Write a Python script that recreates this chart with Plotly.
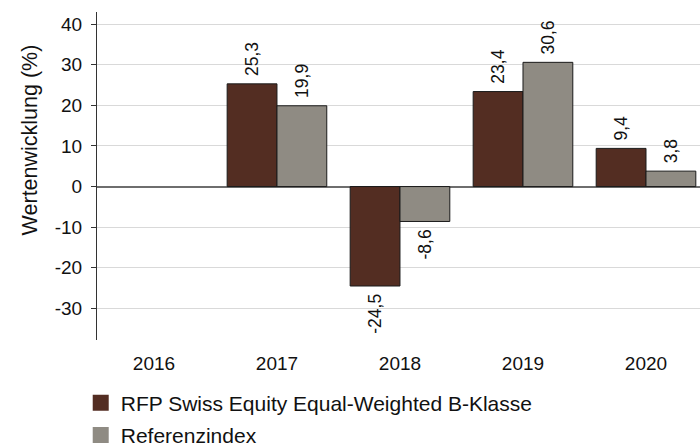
import plotly.graph_objects as go

years = ["2016", "2017", "2018", "2019", "2020"]
fund_name = "RFP Swiss Equity Equal-Weighted B-Klasse"
index_name = "Referenzindex"
fund_values = [None, 25.3, -24.5, 23.4, 9.4]
index_values = [None, 19.9, -8.6, 30.6, 3.8]
y_ticks = [-30, -20, -10, 0, 10, 20, 30, 40]
y_tick_labels = ["-30", "-20", "-10", "0", "10", "20", "30", "40"]

BROWN = "#532d22"
GRAY = "#8f8b83"
FONT = "Liberation Sans, Arial, sans-serif"
NB = "\u00a0"

def lbl(v):
    if v is None:
        return ""
    s = f"{v:.1f}".replace(".", ",")
    return NB + s if v >= 0 else s + NB

fig = go.Figure()
for name, vals, col in [(fund_name, fund_values, BROWN), (index_name, index_values, GRAY)]:
    fig.add_trace(go.Bar(
        x=years, y=vals, name=name, showlegend=False,
        marker=dict(color=col, line=dict(color="#1a1a1a", width=1)),
        text=[lbl(v) for v in vals], textposition="outside", textangle=-90,
        textfont=dict(size=17.5, color="#111111", family=FONT),
        cliponaxis=False,
    ))
    fig.add_trace(go.Scatter(
        x=[None], y=[None], mode="markers", name=name, legendgroup=name,
        marker=dict(symbol="square", size=16, color=col),
    ))

fig.update_layout(
    width=700, height=446,
    margin=dict(l=97, r=0, t=12, b=106, autoexpand=False),
    paper_bgcolor="white", plot_bgcolor="white",
    font=dict(family=FONT, size=19, color="#111111"),
    barmode="group", bargap=0.19, bargroupgap=0,
    showlegend=True,
    legend=dict(x=-0.027, y=-0.13, xanchor="left", yanchor="top",
                orientation="v", font=dict(size=21), tracegroupgap=2,
                bgcolor="rgba(0,0,0,0)"),
    xaxis=dict(range=[-0.463, 4.439], showgrid=False, showline=False,
               ticks="", tickfont=dict(size=19), ticklabelstandoff=10,
               zeroline=False, automargin=False),
    yaxis=dict(range=[-37.8, 43.0], tickvals=y_ticks, ticktext=y_tick_labels,
               showgrid=True, gridcolor="#d9d9d9", gridwidth=1,
               showline=True, linecolor="#333333", linewidth=1,
               ticks="outside", ticklen=5, tickcolor="#333333",
               tickfont=dict(size=19), ticklabelstandoff=5,
               zeroline=True, zerolinecolor="#6e6e6e", zerolinewidth=2,
               automargin=False),
    annotations=[dict(
        text="Wertenwicklung (%)", textangle=-90, showarrow=False,
        xref="paper", yref="paper", x=-0.112, y=0.61,
        xanchor="center", yanchor="middle", font=dict(size=21.5, color="#111111"),
    )],
)

fig.write_html("out.html", config={"displayModeBar": False},
               post_script="document.body.style.margin='0';document.body.style.overflow='hidden';")
